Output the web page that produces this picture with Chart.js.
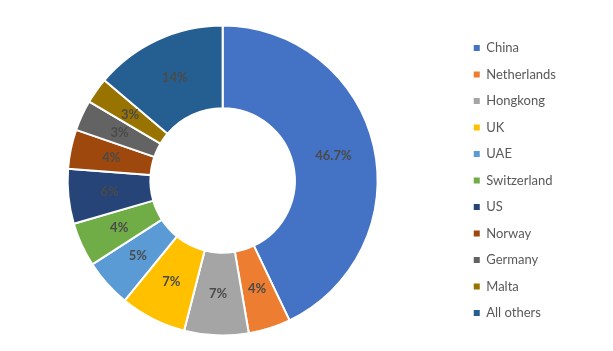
<!DOCTYPE html>
<html>
<head>
<meta charset="utf-8">
<script src="https://cdn.jsdelivr.net/npm/chart.js@4.4.0/dist/chart.umd.min.js"></script>
<style>
    html, body { margin: 0; padding: 0; background: #fff; }
</style>
</head>
<body>
<canvas id="shareChart" width="613" height="351"></canvas>
<script>
// Chart data
const countries = ['China', 'Netherlands', 'Hongkong', 'UK', 'UAE', 'Switzerland', 'US', 'Norway', 'Germany', 'Malta', 'All others'];
const shares = [42.9, 4.4, 6.7, 6.9, 5.0, 4.6, 5.7, 4.1, 3.2, 2.7, 13.8];
const shareLabels = ['46.7%', '4%', '7%', '7%', '5%', '4%', '6%', '4%', '3%', '3%', '14%'];
const sliceColors = ['#4472C4', '#ED7D31', '#A5A5A5', '#FFC000', '#5B9BD5', '#70AD47', '#264478', '#9E480E', '#636363', '#997300', '#255E91'];

// Draw the percentage text in the middle of each slice
const sliceLabelPlugin = {
    id: 'sliceLabels',
    afterDatasetsDraw(chart) {
        const ctx = chart.ctx;
        const arcs = chart.getDatasetMeta(0).data;
        ctx.save();
        ctx.font = 'bold 13px Lato';
        ctx.fillStyle = '#4a4a4a';
        ctx.textAlign = 'center';
        ctx.textBaseline = 'middle';
        arcs.forEach((arc, i) => {
            const pos = arc.tooltipPosition();
            ctx.fillText(shareLabels[i], pos.x, pos.y);
        });
        ctx.restore();
    }
};

// Empty box between the doughnut and the legend, pushes the legend away
const legendGapPlugin = {
    id: 'legendGap',
    beforeInit(chart) {
        Chart.layouts.addBox(chart, {
            position: 'right',
            weight: 0,
            fullSize: false,
            options: {},
            left: 0, top: 0, right: 0, bottom: 0, width: 0, height: 0,
            isHorizontal() { return false; },
            update(maxWidth, maxHeight) { this.width = 15; this.height = maxHeight; },
            draw() {}
        });
    }
};

const ctx = document.getElementById('shareChart').getContext('2d');
const shareChart = new Chart(ctx, {
    type: 'doughnut',
    data: {
        labels: countries,
        datasets: [{
            data: shares,
            backgroundColor: sliceColors,
            borderColor: '#ffffff',
            borderWidth: 2,
            hoverOffset: 0,
            radius: 155,
            cutout: 79
        }]
    },
    options: {
        responsive: false,
        animation: false,
        layout: { padding: { left: 0, right: 47, top: 10, bottom: 0 } },
        plugins: {
            tooltip: { enabled: false },
            legend: {
                position: 'right',
                labels: {
                    boxWidth: 6,
                    boxHeight: 6,
                    padding: 13.5,
                    color: '#595959',
                    font: { family: 'Lato', size: 13 },
                    generateLabels(chart) {
                        const items = Chart.overrides.doughnut.plugins.legend.labels.generateLabels(chart);
                        items.forEach(item => { item.lineWidth = 0; });
                        return items;
                    }
                }
            }
        }
    },
    plugins: [sliceLabelPlugin, legendGapPlugin]
});
</script>
</body>
</html>
